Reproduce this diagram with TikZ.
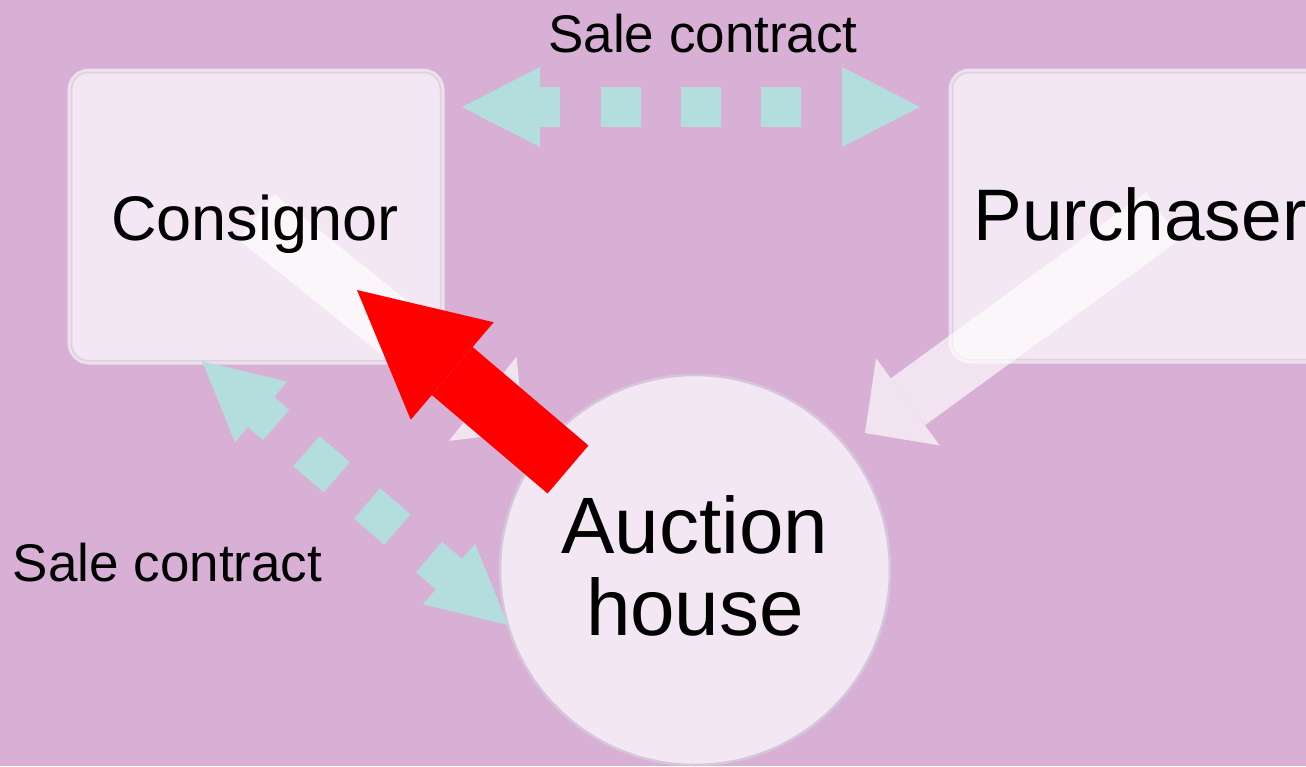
\documentclass[tikz,border=0pt]{standalone}
\usepackage{fontspec}
\setmainfont{Liberation Sans}
\usetikzlibrary{arrows.meta}
\definecolor{bgc}{RGB}{216,176,214}
\definecolor{boxfill}{RGB}{242,231,243}
\definecolor{rimc}{RGB}{236,224,238}
\definecolor{shadec}{RGB}{214,198,218}
\definecolor{cyanc}{RGB}{180,221,222}
\definecolor{redc}{RGB}{255,0,0}
\begin{document}
\begin{tikzpicture}[x=1pt,y=-1pt,
  box/.style={rectangle, rounded corners=20pt, fill=boxfill, draw=rimc, line width=3pt,
    inner sep=0pt},
  lbl/.style={font=\fontsize{53}{64}\selectfont, inner sep=0pt, anchor=base},
  whitearrow/.style={line width=58pt, white,
    -{Triangle[width=108pt,length=53pt,line width=0pt]}},
  cyanarrow/.style={line width=40pt, cyanc,
    {Triangle[width=80pt,length=78pt,line width=0pt]}-{Triangle[width=80pt,length=78pt,line width=0pt]}},
  redarrow/.style={line width=63pt, redc,
    -{Triangle[width=128pt,length=125pt,line width=0pt]}}
]
\useasboundingbox (0,0) rectangle (1306,766);
\fill[bgc] (0,0) rectangle (1306,766);
\begin{scope}
\clip (0,0) rectangle (1306,766);
% boxes
\node[box, minimum width=374pt, minimum height=293pt] (con) at (256,216.5) {};
\node[box, minimum width=426pt, minimum height=292pt] (pur) at (1163,216) {};
\draw[shadec, line width=1.5pt, rounded corners=17pt, opacity=0.7]
  ([shift={(4,4)}]con.north west) rectangle ([shift={(-4,-4)}]con.south east);
\draw[shadec, line width=1.5pt, rounded corners=17pt, opacity=0.7]
  ([shift={(4,4)}]pur.north west) rectangle ([shift={(-4,-4)}]pur.south east);
% circle
\node[circle, fill=boxfill, draw=shadec, line width=2.5pt, minimum size=390pt, inner sep=0pt]
  (ah) at (695,570) {};
% coordinates
\coordinate (wt1) at (524,432);
\coordinate (wt2) at (865,433);
\coordinate (c1s) at (462,107);
\coordinate (c1e) at (920,107);
\coordinate (c2s) at (202,361);
\coordinate (c2e) at (508,625);
\coordinate (rt) at (568,469.5);
\coordinate (rh) at (357,290);
% white arrows
\begin{scope}[transparency group, opacity=0.65]
\draw[whitearrow] (con.center) -- (wt1);
\draw[whitearrow] (pur.center) -- (wt2);
\end{scope}
% cyan arrows
\draw[cyanarrow, dash pattern=on 20pt off 41pt on 40pt off 40pt on 40pt off 40pt on 40pt off 41pt]
  (c1s) -- (c1e);
\draw[cyanarrow, dash pattern=on 20pt off 40pt on 40pt off 40pt on 40pt off 42pt on 30pt]
  (c2s) -- (c2e);
% texts in shapes
\node[font=\fontsize{63}{76}\selectfont, inner sep=0pt, anchor=base] (cont) at (255,240) {Consignor};
\node[font=\fontsize{73}{88}\selectfont, inner sep=0pt, anchor=base] (purt) at (1140,240) {Purchaser};
\node[font=\fontsize{80}{82}\selectfont, align=center, inner sep=0pt, anchor=base]
  (aht) at (695,635) {Auction\\house};
% red arrow
\draw[redarrow] (rt) -- (rh);
\end{scope}
% labels
\node[lbl] (sc1) at (703,52) {Sale contract};
\node[lbl] (sc2) at (167.5,581.5) {Sale contract};
\end{tikzpicture}
\end{document}
